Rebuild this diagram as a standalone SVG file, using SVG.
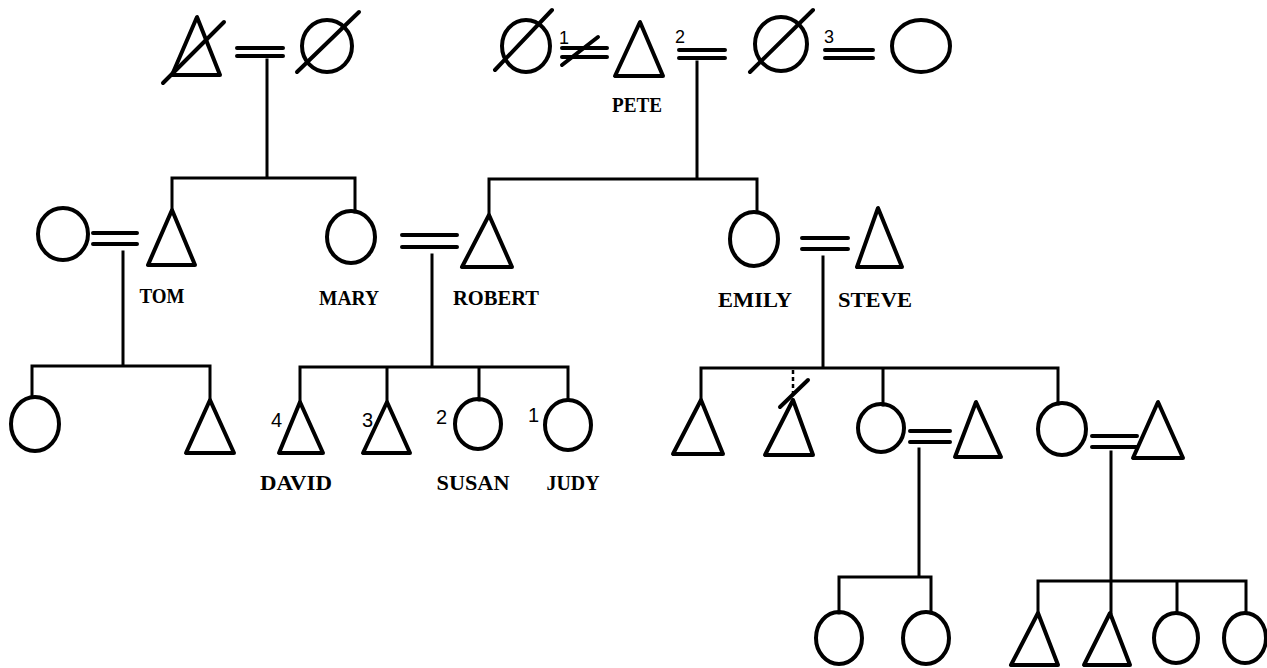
<svg xmlns="http://www.w3.org/2000/svg" width="1267" height="668" viewBox="0 0 1267 668">
<style>
.s{fill:none;stroke:#000;stroke-width:4;stroke-linejoin:round;stroke-linecap:round}
.c{fill:none;stroke:#000;stroke-width:3;stroke-linecap:square}
.m{fill:none;stroke:#000;stroke-width:4;stroke-linecap:round}
.d{fill:none;stroke:#000;stroke-width:2.5;stroke-dasharray:4 3}
.lbl{font-family:"Liberation Serif",serif;font-weight:bold;font-size:21px;text-anchor:middle;fill:#000}
.num{font-family:"Liberation Sans",sans-serif;font-size:20px;fill:#000}
.numt{font-family:"Liberation Sans",sans-serif;font-size:18px;fill:#000}
</style>
<rect width="1267" height="668" fill="#fff"/>
<g id="connectors">
<path class="m" d="M237 48H283M237 56H283"/>
<path class="m" d="M562 48H607M562 57H607M562 65L598 37"/>
<path class="m" d="M679 50H725M679 58H725"/>
<path class="m" d="M825 50H873M825 58H873"/>
<path class="c" d="M267 60V178M172 178H355M172 178V210M355 178V212"/>
<path class="c" d="M697 62V179M489 179H757M489 179V215M757 179V212"/>
<path class="m" d="M93 233H137M93 244H137"/>
<path class="c" d="M123 252V366M32 366H210M32 366V397M210 366V400"/>
<path class="m" d="M402 235H457M402 247H457"/>
<path class="c" d="M432 255V367M300 367H568M300 367V402M387 367V402M479 367V400M568 367V400"/>
<path class="m" d="M802 238H848M802 249H848"/>
<path class="c" d="M823 257V368M701 368H1058M701 368V400M883 368V405M1058 368V404"/>
<path class="d" d="M793 370V398"/>
<path class="m" d="M910 431H950M910 442H950"/>
<path class="c" d="M919 449V577M839 577H931M839 577V613M931 577V613"/>
<path class="m" d="M1092 436H1137M1092 447H1137"/>
<path class="c" d="M1111 452V613M1038 581H1246M1038 581V613M1177 581V613M1246 581V613"/>
</g>
<g id="gf1"><polygon class="s" points="197,17 172,75 220,75"/><path class="m" d="M163 83L224 22"/></g>
<g id="gm1"><ellipse class="s" cx="327" cy="46" rx="25" ry="26"/><path class="m" d="M297 72L359 12"/></g>
<g id="pete_w1"><ellipse class="s" cx="526" cy="46" rx="24" ry="26"/><path class="m" d="M495 70L552 10"/><text class="numt" x="559" y="44">1</text></g>
<g id="pete"><polygon class="s" points="640,22 615,76 663,76"/><text class="lbl" x="637" y="112" textLength="50" lengthAdjust="spacingAndGlyphs">PETE</text><text class="numt" x="675" y="43">2</text></g>
<g id="pete_w2"><ellipse class="s" cx="781" cy="44" rx="26" ry="27"/><path class="m" d="M750 72L813 10"/><text class="numt" x="824" y="43">3</text></g>
<g id="pete_w3"><ellipse class="s" cx="921" cy="46" rx="29" ry="26"/></g>
<g id="tom_wife"><ellipse class="s" cx="63" cy="234" rx="25" ry="26"/></g>
<g id="tom"><polygon class="s" points="172,210 148,265 195,265"/><text class="lbl" x="162" y="303" textLength="45" lengthAdjust="spacingAndGlyphs">TOM</text></g>
<g id="mary"><ellipse class="s" cx="351" cy="237" rx="24" ry="26"/><text class="lbl" x="349" y="305" textLength="60" lengthAdjust="spacingAndGlyphs">MARY</text></g>
<g id="robert"><polygon class="s" points="489,215 462,267 512,267"/><text class="lbl" x="496" y="305" textLength="86" lengthAdjust="spacingAndGlyphs">ROBERT</text></g>
<g id="emily"><ellipse class="s" cx="754" cy="239" rx="24" ry="27"/><text class="lbl" x="755" y="307" textLength="74" lengthAdjust="spacingAndGlyphs">EMILY</text></g>
<g id="steve"><polygon class="s" points="878,208 857,267 902,267"/><text class="lbl" x="875" y="307" textLength="74" lengthAdjust="spacingAndGlyphs">STEVE</text></g>
<g id="tk1"><ellipse class="s" cx="35" cy="424" rx="24" ry="27"/></g>
<g id="tk2"><polygon class="s" points="210,400 186,453 234,453"/></g>
<g id="david"><polygon class="s" points="300,402 279,453 323,453"/><text class="num" x="271" y="427">4</text><text class="lbl" x="296" y="490" textLength="72" lengthAdjust="spacingAndGlyphs">DAVID</text></g>
<g id="rk3"><polygon class="s" points="387,402 363,453 410,453"/><text class="num" x="362" y="427">3</text></g>
<g id="susan"><ellipse class="s" cx="478" cy="424" rx="23" ry="25"/><text class="num" x="436" y="424">2</text><text class="lbl" x="473" y="490" textLength="73" lengthAdjust="spacingAndGlyphs">SUSAN</text></g>
<g id="judy"><ellipse class="s" cx="568" cy="425" rx="23" ry="25"/><text class="num" x="528" y="422">1</text><text class="lbl" x="573" y="490" textLength="53" lengthAdjust="spacingAndGlyphs">JUDY</text></g>
<g id="sk1"><polygon class="s" points="701,400 673,454 723,454"/></g>
<g id="sk2"><polygon class="s" points="793,400 765,455 813,455"/><path class="m" d="M780 407L808 380"/></g>
<g id="sk3"><ellipse class="s" cx="881" cy="428" rx="23" ry="24"/></g>
<g id="sk3_h"><polygon class="s" points="976,402 955,457 1001,457"/></g>
<g id="sk4"><ellipse class="s" cx="1062" cy="429" rx="24" ry="26"/></g>
<g id="sk4_h"><polygon class="s" points="1158,402 1133,458 1183,458"/></g>
<g id="g1"><ellipse class="s" cx="839" cy="638" rx="23" ry="26"/></g>
<g id="g2"><ellipse class="s" cx="926" cy="638" rx="23" ry="26"/></g>
<g id="g3"><polygon class="s" points="1038,613 1011,665 1058,665"/></g>
<g id="g4"><polygon class="s" points="1110,613 1084,665 1130,665"/></g>
<g id="g5"><ellipse class="s" cx="1176" cy="638" rx="22" ry="25"/></g>
<g id="g6"><ellipse class="s" cx="1245" cy="638" rx="21" ry="25"/></g>
</svg>
